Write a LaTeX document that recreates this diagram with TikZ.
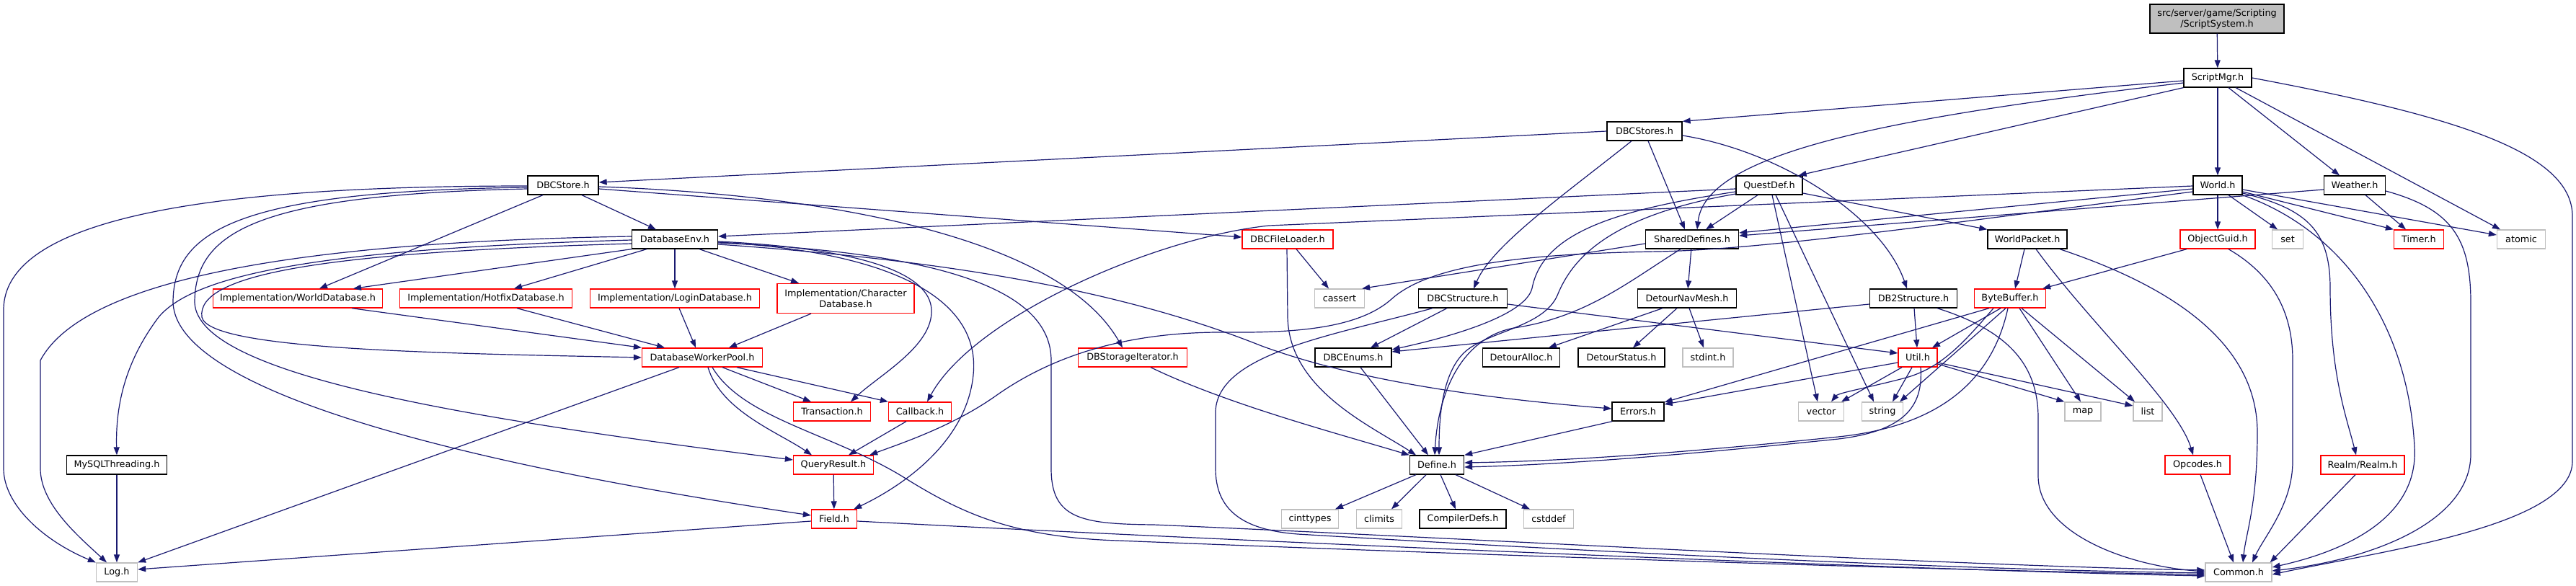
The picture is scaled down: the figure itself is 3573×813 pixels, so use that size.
\documentclass[tikz,border=0pt]{standalone}
\usepackage{fontspec}
\setmainfont{DejaVu Sans}
\usetikzlibrary{arrows.meta,calc}
\definecolor{edgec}{HTML}{191970}
\definecolor{greyb}{HTML}{BFBFBF}
\definecolor{redb}{HTML}{FF0000}
\begin{document}
\begin{tikzpicture}[x=1pt,y=-1pt,
 nbox/.style={rectangle,draw,line width=1.3pt,minimum height=26pt,inner sep=0pt,align=center,fill=white,font=\fontsize{12.8}{15}\selectfont},
 kbox/.style={nbox,draw=black},
 rbox/.style={nbox,draw=redb},
 gbox/.style={nbox,draw=greyb},
 edg/.style={draw=edgec,line width=1.2pt,-{Triangle[length=11pt,width=8pt]}}]
\useasboundingbox (0,0) rectangle (3573,813);
% nodes
\node[kbox,fill=greyb,minimum width=186pt,minimum height=40pt] (sys) at (3075,26) {src/server/game/Scripting\\/ScriptSystem.h};
\node[kbox,minimum width=94pt] (smgr) at (3076,108) {ScriptMgr.h};
\node[kbox,minimum width=104pt] (dbcstores) at (2281,182) {DBCStores.h};
\node[kbox,minimum width=98pt] (dbcstore) at (781,257) {DBCStore.h};
\node[kbox,minimum width=92pt] (quest) at (2454,257) {QuestDef.h};
\node[kbox,minimum width=68pt] (world) at (3076,257) {World.h};
\node[kbox,minimum width=85pt] (weather) at (3266,257) {Weather.h};
\node[kbox,minimum width=119pt] (dbenv) at (936,332) {DatabaseEnv.h};
\node[rbox,minimum width=126pt] (loader) at (1786,332) {DBCFileLoader.h};
\node[kbox,minimum width=129pt] (shared) at (2347,332) {SharedDefines.h};
\node[kbox,minimum width=110pt] (wpacket) at (2812,332) {WorldPacket.h};
\node[rbox,minimum width=104pt] (guid) at (3076,332) {ObjectGuid.h};
\node[gbox,minimum width=43pt] (set) at (3173,332) {set};
\node[rbox,minimum width=69pt] (timer) at (3355,332) {Timer.h};
\node[gbox,minimum width=67pt] (atomic) at (3497,332) {atomic};
\node[rbox,minimum width=235pt] (iworld) at (413,414) {Implementation/WorldDatabase.h};
\node[rbox,minimum width=239pt] (ihotfix) at (674,414) {Implementation/HotfixDatabase.h};
\node[rbox,minimum width=235pt] (ilogin) at (936,414) {Implementation/LoginDatabase.h};
\node[rbox,minimum width=190pt,minimum height=41pt] (ichar) at (1173,414) {Implementation/Character\\Database.h};
\node[gbox,minimum width=69pt] (cassert) at (1858,414) {cassert};
\node[kbox,minimum width=123pt] (dbcstruct) at (2029,414) {DBCStructure.h};
\node[kbox,minimum width=137pt] (navmesh) at (2340,414) {DetourNavMesh.h};
\node[kbox,minimum width=121pt] (db2) at (2654,414) {DB2Structure.h};
\node[rbox,minimum width=99pt] (bbuf) at (2788,414) {ByteBuffer.h};
\node[rbox,minimum width=167pt] (pool) at (974,496) {DatabaseWorkerPool.h};
\node[rbox,minimum width=151pt] (iter) at (1571,496) {DBStorageIterator.h};
\node[kbox,minimum width=106pt] (enums) at (1877,496) {DBCEnums.h};
\node[kbox,minimum width=107pt] (alloc) at (2110,496) {DetourAlloc.h};
\node[kbox,minimum width=120pt] (status) at (2249,496) {DetourStatus.h};
\node[gbox,minimum width=70pt] (stdint) at (2369,496) {stdint.h};
\node[rbox,minimum width=54pt] (util) at (2660,496) {Util.h};
\node[rbox,minimum width=107pt] (trans) at (1154,571) {Transaction.h};
\node[rbox,minimum width=87pt] (callback) at (1276,571) {Callback.h};
\node[kbox,minimum width=72pt] (errors) at (2272,571) {Errors.h};
\node[gbox,minimum width=63pt] (vector) at (2526,571) {vector};
\node[gbox,minimum width=57pt] (string) at (2611,571) {string};
\node[gbox,minimum width=50pt] (map) at (2889,571) {map};
\node[gbox,minimum width=40pt] (list) at (2979,571) {list};
\node[kbox,minimum width=139pt] (mysql) at (162,645) {MySQLThreading.h};
\node[rbox,minimum width=111pt] (query) at (1156,645) {QueryResult.h};
\node[kbox,minimum width=75pt] (define) at (1993,645) {Define.h};
\node[rbox,minimum width=90pt] (opcodes) at (3048,645) {Opcodes.h};
\node[rbox,minimum width=116pt] (realm) at (3277,645) {Realm/Realm.h};
\node[rbox,minimum width=63pt] (field) at (1157,720) {Field.h};
\node[gbox,minimum width=79pt] (cinttypes) at (1817,720) {cinttypes};
\node[gbox,minimum width=63pt] (climits) at (1913,720) {climits};
\node[kbox,minimum width=120pt] (compdefs) at (2029,720) {CompilerDefs.h};
\node[gbox,minimum width=69pt] (cstddef) at (2148,720) {cstddef};
\node[gbox,minimum width=57pt] (log) at (162,794) {Log.h};
\node[gbox,minimum width=92pt] (common) at (3105,794) {Common.h};
% ScriptSystem / ScriptMgr
\draw[edg] (sys) -- (smgr);
\draw[edg] ($(smgr.west)+(0,4)$) -- (dbcstores.north east);
\draw[edg] ($(smgr.west)+(0,7)$) .. controls (2600,165) and (2365,215) .. ($(shared.north)+(7,0)$);
\draw[edg] (smgr.south west) -- ($(quest.north east)+(-6,0)$);
\draw[edg] (smgr) -- (world);
\draw[edg] ($(smgr.south)+(15,0)$) -- ($(weather.north)+(-21,0)$);
\draw[edg] ($(smgr.south)+(25,0)$) -- ($(atomic.north)+(-29,0)$);
\draw[edg] (smgr.east) .. controls (3400,160) and (3568,210) .. (3568,300) -- (3568,640) .. controls (3568,730) and (3300,765) .. ($(common.east)+(0,3)$);
% DBCStores
\draw[edg] (dbcstores.west) -- ($(dbcstore.east)+(0,-4)$);
\draw[edg] ($(dbcstores.south)+(-18,0)$) .. controls (2170,270) and (2070,340) .. ($(dbcstruct.north)+(15,0)$);
\draw[edg] ($(dbcstores.south)+(5,0)$) -- ($(shared.north)+(-10,0)$);
\draw[edg] ($(dbcstores.east)+(0,6)$) .. controls (2470,210) and (2610,300) .. ($(db2.north)+(-9,0)$);
% DBCStore
\draw[edg] ($(dbcstore.south)+(26,0)$) -- ($(dbenv.north)+(-26,0)$);
\draw[edg] ($(dbcstore.south)+(-28,0)$) -- ($(iworld.north)+(30,0)$);
\draw[edg] ($(dbcstore.west)+(0,1)$) .. controls (350,258) and (5,290) .. (5,430) -- (5,650) .. controls (5,700) and (60,750) .. (log.north west);
\draw[edg] ($(dbcstore.west)+(0,3)$) .. controls (330,265) and (240,320) .. (240,420) .. controls (245,540) and (620,640) .. ($(field.west)+(0,-5)$);
\draw[edg] ($(dbcstore.west)+(0,5)$) .. controls (360,270) and (270,320) .. (270,420) .. controls (275,520) and (640,580) .. ($(query.west)+(0,-7)$);
\draw[edg] ($(dbcstore.east)+(0,5)$) -- ($(loader.west)+(0,-3)$);
\draw[edg] ($(dbcstore.east)+(0,2)$) .. controls (1150,270) and (1470,330) .. ($(iter.north)+(-14,0)$);
% DatabaseEnv
\draw[edg] ($(dbenv.west)+(0,-4)$) .. controls (450,335) and (120,380) .. (56,500) -- (56,650) .. controls (56,700) and (110,745) .. ($(log.north)+(-14,0)$);
\draw[edg] ($(dbenv.west)+(0,1)$) .. controls (450,345) and (270,380) .. (220,440) .. controls (175,500) and (160,560) .. (mysql.north);
\draw[edg] ($(dbenv.west)+(0,6)$) .. controls (450,350) and (272,380) .. (280,440) .. controls (290,485) and (600,490) .. (pool.west);
\draw[edg] (dbenv.south west) -- ($(iworld.north)+(77,0)$);
\draw[edg] ($(dbenv.south)+(-39,0)$) -- ($(ihotfix.north)+(39,0)$);
\draw[edg] (dbenv) -- (ilogin);
\draw[edg] ($(dbenv.south)+(34,0)$) -- ($(ichar.north)+(-65,0)$);
\draw[edg] ($(dbenv.east)+(0,3)$) .. controls (1200,345) and (1290,380) .. (1292,430) .. controls (1294,480) and (1220,520) .. ($(trans.north)+(26,0)$);
\draw[edg] ($(dbenv.east)+(0,4)$) .. controls (1250,350) and (1360,420) .. (1350,520) .. controls (1340,620) and (1240,680) .. ($(field.north east)+(-5,0)$);
\draw[edg] ($(dbenv.east)+(0,5)$) .. controls (1300,350) and (1458,400) .. (1458,500) -- (1458,650) .. controls (1458,720) and (1500,727) .. (1600,728) .. controls (2000,745) and (2700,785) .. ($(common.west)+(0,-3)$);
\draw[edg] ($(dbenv.east)+(0,7)$) .. controls (1300,360) and (1550,400) .. (1750,480) .. controls (1900,535) and (2100,556) .. ($(errors.west)+(0,-4)$);
% QuestDef
\draw[edg] ($(quest.west)+(0,5)$) -- ($(dbenv.east)+(0,-4)$);
\draw[edg] ($(quest.south)+(-16,0)$) -- ($(shared.north)+(19,0)$);
\draw[edg] ($(quest.west)+(0,9)$) .. controls (2250,290) and (2140,320) .. (2125,400) .. controls (2115,440) and (2000,470) .. ($(enums.east)+(0,-11)$);
\draw[edg] ($(quest.west)+(0,12)$) .. controls (2230,300) and (2180,360) .. (2160,410) .. controls (2140,455) and (2060,460) .. (2030,490) .. controls (2000,520) and (1996,580) .. ($(define.north)+(3,0)$);
\draw[edg] ($(quest.east)+(0,11)$) -- (wpacket.north west);
\draw[edg] ($(quest.south)+(4,0)$) -- ($(vector.north)+(-5,0)$);
\draw[edg] ($(quest.south)+(9,0)$) -- ($(string.north)+(-12,0)$);
% World
\draw[edg] ($(world.west)+(0,1)$) -- (1760,313) .. controls (1600,330) and (1350,440) .. ($(callback.north)+(10,0)$);
\draw[edg] ($(world.west)+(0,5)$) -- ($(shared.east)+(0,-9)$);
\draw[edg] ($(world.west)+(0,9)$) .. controls (2700,310) and (2450,346) .. (2300,349) .. controls (2100,352) and (1980,370) .. (1930,415) .. controls (1885,455) and (1800,462) .. (1700,461) .. controls (1550,460) and (1450,500) .. (1380,550) .. controls (1320,592) and (1250,615) .. ($(query.north east)+(-6,0)$);
\draw[edg] (world) -- (guid);
\draw[edg] ($(world.south)+(15,0)$) -- ($(set.north)+(-14,0)$);
\draw[edg] ($(world.east)+(0,9)$) -- (timer.north west);
\draw[edg] ($(world.east)+(0,6)$) -- ($(atomic.west)+(0,-6)$);
\draw[edg] ($(world.east)+(0,11)$) .. controls (3200,290) and (3232,320) .. (3232,400) .. controls (3232,520) and (3255,580) .. ($(realm.north)+(-9,0)$);
\draw[edg] (world.south east) .. controls (3250,320) and (3340,450) .. (3349,620) .. controls (3355,720) and (3250,765) .. ($(common.east)+(0,-7)$);
% Weather
\draw[edg] ($(weather.west)+(0,6)$) -- ($(shared.east)+(0,-5)$);
\draw[edg] ($(weather.south)+(15,0)$) -- ($(timer.north)+(-18,0)$);
\draw[edg] ($(weather.east)+(0,8)$) .. controls (3400,290) and (3427,330) .. (3427,420) -- (3427,630) .. controls (3427,720) and (3300,775) .. ($(common.east)+(0,-2)$);
% ObjectGuid / WorldPacket / Opcodes / Realm
\draw[edg] ($(guid.south)+(-43,0)$) -- ($(bbuf.north east)+(-5,0)$);
\draw[edg] ($(guid.south)+(15,0)$) .. controls (3150,380) and (3180,430) .. (3180,500) -- (3180,640) .. controls (3180,700) and (3140,745) .. ($(common.north)+(19,0)$);
\draw[edg] ($(wpacket.south)+(-4,0)$) -- ($(bbuf.north)+(7,0)$);
\draw[edg] ($(wpacket.south)+(12,0)$) .. controls (2900,450) and (3020,560) .. ($(opcodes.north)+(-6,0)$);
\draw[edg] ($(wpacket.south)+(45,0)$) .. controls (3020,400) and (3131,480) .. (3131,600) .. controls (3131,700) and (3115,740) .. ($(common.north)+(6,0)$);
\draw[edg] ($(opcodes.south)+(4,0)$) -- ($(common.north)+(-7,0)$);
\draw[edg] ($(realm.south)+(-10,0)$) -- ($(common.north east)+(-3,0)$);
% DB2Structure
\draw[edg] ($(db2.west)+(0,8)$) -- ($(enums.east)+(0,-8)$);
\draw[edg] (db2) -- (util);
\draw[edg] ($(db2.south)+(33,0)$) .. controls (2790,460) and (2827,510) .. (2827,580) -- (2827,660) .. controls (2827,740) and (2950,785) .. ($(common.west)+(0,-1)$);
% ByteBuffer
\draw[edg] ($(bbuf.south)+(-13,0)$) -- ($(util.north)+(20,0)$);
\draw[edg] ($(bbuf.south)+(-6,0)$) -- ($(string.north)+(24,0)$);
\draw[edg] ($(bbuf.south)+(-23,0)$) .. controls (2720,480) and (2690,512) .. (2640,525) .. controls (2590,538) and (2550,545) .. ($(vector.north)+(14,0)$);
\draw[edg] ($(bbuf.south)+(-29,0)$) -- ($(errors.east)+(0,-13)$);
\draw[edg] ($(bbuf.south)+(13,0)$) -- ($(map.north)+(-3,0)$);
\draw[edg] ($(bbuf.south)+(16,0)$) -- ($(list.north)+(-18,0)$);
\draw[edg] ($(bbuf.south)+(-3,0)$) .. controls (2765,520) and (2700,590) .. (2550,606) .. controls (2300,632) and (2150,640) .. ($(define.east)+(0,-3)$);
% Util
\draw[edg] ($(util.west)+(0,7)$) -- ($(errors.east)+(0,-10)$);
\draw[edg] ($(util.south)+(-22,0)$) -- ($(vector.north)+(28,0)$);
\draw[edg] ($(util.south)+(-8,0)$) -- ($(string.north)+(14,0)$);
\draw[edg] ($(util.east)+(0,9)$) -- (map.north west);
\draw[edg] ($(util.east)+(0,7)$) -- ($(list.west)+(0,-8)$);
\draw[edg] ($(util.south)+(4,0)$) .. controls (2668,565) and (2640,598) .. (2550,609) .. controls (2300,635) and (2150,645) .. ($(define.east)+(0,3)$);
% DBCStructure
\draw[edg] ($(dbcstruct.south)+(-22,0)$) -- ($(enums.north)+(24,0)$);
\draw[edg] ($(dbcstruct.east)+(0,8)$) -- ($(util.west)+(0,-6)$);
\draw[edg] ($(dbcstruct.south)+(-42,0)$) .. controls (1850,465) and (1690,490) .. (1686,570) -- (1686,650) .. controls (1686,705) and (1720,735) .. (1800,741) .. controls (2200,765) and (2700,790) .. ($(common.west)+(0,1)$);
% DetourNavMesh
\draw[edg] ($(navmesh.south)+(-34,0)$) -- ($(alloc.north)+(38,0)$);
\draw[edg] ($(navmesh.south)+(-14,0)$) -- ($(status.north)+(16,0)$);
\draw[edg] ($(navmesh.south)+(3,0)$) -- ($(stdint.north)+(-6,0)$);
% SharedDefines
\draw[edg] (shared) -- (navmesh);
\draw[edg] ($(shared.west)+(0,6)$) -- ($(cassert.north east)+(-4,0)$);
\draw[edg] ($(shared.south)+(-16,0)$) .. controls (2260,390) and (2200,440) .. (2100,455) .. controls (2030,468) and (1995,540) .. ($(define.north)+(-3,0)$);
% DBCFileLoader / DBStorageIterator / DBCEnums / Errors
\draw[edg] ($(loader.south)+(12,0)$) -- ($(cassert.north)+(-15,0)$);
\draw[edg] ($(loader.south)+(-1,0)$) -- (1786,440) .. controls (1788,540) and (1900,590) .. ($(define.north)+(-29,0)$);
\draw[edg] ($(iter.south)+(25,0)$) .. controls (1700,560) and (1850,600) .. (define.north west);
\draw[edg] ($(enums.south)+(10,0)$) -- ($(define.north)+(-12,0)$);
\draw[edg] ($(errors.south)+(-36,0)$) -- (define.north east);
% Define
\draw[edg] ($(define.south)+(-29,0)$) -- ($(cinttypes.north)+(35,0)$);
\draw[edg] ($(define.south)+(-15,0)$) -- ($(climits.north)+(17,0)$);
\draw[edg] ($(define.south)+(5,0)$) -- ($(compdefs.north)+(-10,0)$);
\draw[edg] ($(define.south)+(26,0)$) -- ($(cstddef.north)+(-26,0)$);
% Implementation headers
\draw[edg] ($(iworld.south)+(75,0)$) -- (pool.north west);
\draw[edg] ($(ihotfix.south)+(43,0)$) -- ($(pool.north)+(-52,0)$);
\draw[edg] ($(ilogin.south)+(6,0)$) -- ($(pool.north)+(-9,0)$);
\draw[edg] ($(ichar.south)+(-48,0)$) -- ($(pool.north)+(37,0)$);
% DatabaseWorkerPool
\draw[edg] ($(pool.south)+(-32,0)$) -- (log.north east);
\draw[edg] ($(pool.south)+(8,0)$) .. controls (1000,570) and (1080,600) .. ($(query.north)+(-30,0)$);
\draw[edg] ($(pool.south)+(14,0)$) .. controls (1030,580) and (1150,600) .. (1250,660) .. controls (1330,710) and (1400,745) .. (1550,750) .. controls (2000,768) and (2700,792) .. ($(common.west)+(0,3)$);
\draw[edg] ($(pool.south)+(28,0)$) -- ($(trans.north)+(-29,0)$);
\draw[edg] ($(pool.south)+(48,0)$) -- (callback.north west);
% Callback / QueryResult / Field / MySQLThreading
\draw[edg] ($(callback.south)+(-19,0)$) -- ($(query.north)+(21,0)$);
\draw[edg] (query) -- (field);
\draw[edg] ($(field.west)+(0,3)$) -- ($(log.east)+(0,-4)$);
\draw[edg] ($(field.east)+(0,3)$) .. controls (1600,745) and (2600,790) .. ($(common.west)+(0,5)$);
\draw[edg] (mysql) -- (log);
\end{tikzpicture}
\end{document}
